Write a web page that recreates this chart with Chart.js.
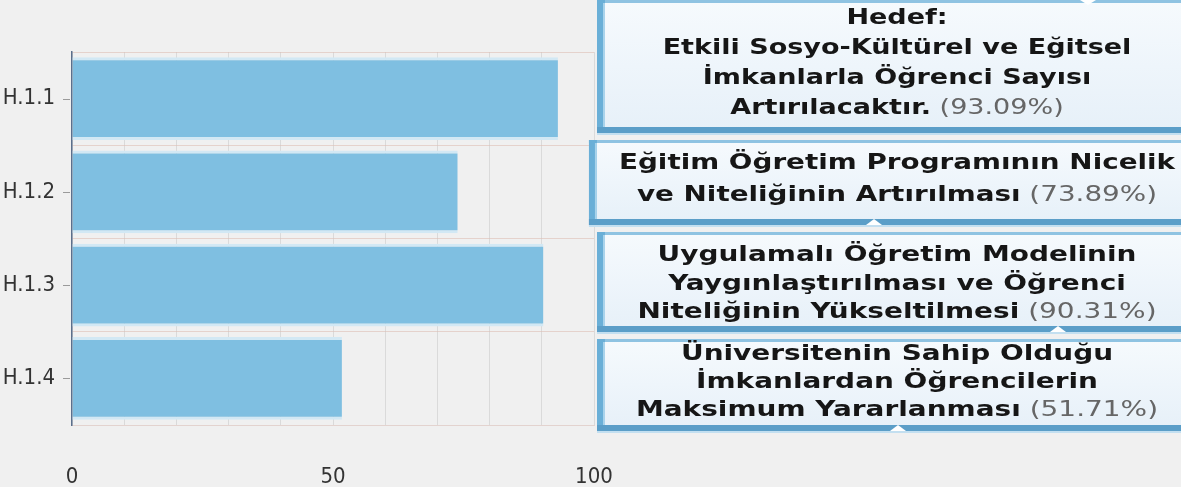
<!DOCTYPE html>
<html lang="tr">
<head>
  <meta charset="UTF-8">
  <title>Hedef H.1</title>
  <style>
    body {
      margin: 0;
      background: #f0f0f0;
    }
    canvas {
      display: block;
    }
  </style>
</head>
<body>
  <canvas id="hedefChart" width="1181" height="487"></canvas>

  <script src="https://cdn.jsdelivr.net/npm/chart.js"></script>
  <script>
    // veriler
    const categories = ['H.1.1', 'H.1.2', 'H.1.3', 'H.1.4'];
    const values = [93.09, 73.89, 90.31, 51.71];
    const xTickLabels = [0, 50, 100];
    const goalTitles = [
      ['Hedef:', 'Etkili Sosyo-Kültürel ve Eğitsel', 'İmkanlarla Öğrenci Sayısı', 'Artırılacaktır.'],
      ['Eğitim Öğretim Programının Nicelik', 've Niteliğinin Artırılması'],
      ['Uygulamalı Öğretim Modelinin', 'Yaygınlaştırılması ve Öğrenci', 'Niteliğinin Yükseltilmesi'],
      ['Üniversitenin Sahip Olduğu', 'İmkanlardan Öğrencilerin', 'Maksimum Yararlanması']
    ];

    // kutu stilleri
    const boxFontSize = [20.8, 21.4, 21.5, 21.5];
    const boxLineHeight = [30, 32, 28.5, 28];
    const boxHeight = [133, 85, 100, 92];
    const boxTextShift = [0, 0, 5, 0];
    const boxNotch = [[1088, 'top'], [874, 'bottom'], [1058, 'bottom'], [898, 'bottom']];
    const stretch = 1.3;

    function lineParts(lines, i, idx) {
      let parts = [{ text: lines[i], bold: true, color: '#161616' }];
      if (i === lines.length - 1) {
        parts.push({ text: ' (' + values[idx].toFixed(2) + '%)', bold: false, color: '#666666' });
      }
      return parts;
    }

    function partsWidth(ctx, parts, size) {
      let w = 0;
      parts.forEach(function (p) {
        ctx.font = (p.bold ? 'bold ' : '') + size + 'px "DejaVu Sans"';
        p.w = ctx.measureText(p.text).width * stretch;
        w += p.w;
      });
      return w;
    }

    function drawParts(ctx, parts, cx, cy, size) {
      let total = partsWidth(ctx, parts, size);
      let x = cx - total / 2;
      parts.forEach(function (p) {
        ctx.save();
        ctx.font = (p.bold ? 'bold ' : '') + size + 'px "DejaVu Sans"';
        ctx.fillStyle = p.color;
        ctx.textBaseline = 'middle';
        ctx.translate(x, cy);
        ctx.scale(stretch, 1);
        ctx.fillText(p.text, 0, 0);
        ctx.restore();
        x += p.w;
      });
    }

    function drawBox(ctx, x, y, w, h, notch) {
      let g = ctx.createLinearGradient(0, y, 0, y + h);
      g.addColorStop(0, '#f6fafd');
      g.addColorStop(0.5, '#eef5fb');
      g.addColorStop(1, '#e6f0f8');
      ctx.fillStyle = g;
      ctx.fillRect(x, y, w, h);
      // ust kenar
      ctx.fillStyle = '#8fc3e2';
      ctx.fillRect(x, y, w, 3);
      // sol kenar
      ctx.fillStyle = '#6aafd7';
      ctx.fillRect(x, y, 8, h);
      ctx.fillStyle = '#a9d3eb';
      ctx.fillRect(x + 6, y + 3, 2, h - 8);
      // alt kenar
      ctx.fillStyle = '#5b9ec8';
      ctx.fillRect(x, y + h - 6, w, 6);
      ctx.fillStyle = '#c3dff0';
      ctx.fillRect(x, y + h, w, 2);
      // kucuk centik
      ctx.fillStyle = '#ffffff';
      ctx.beginPath();
      if (notch[1] === 'top') {
        ctx.moveTo(notch[0] - 8, y);
        ctx.lineTo(notch[0] + 8, y);
        ctx.lineTo(notch[0], y + 5);
      } else {
        ctx.moveTo(notch[0] - 8, y + h);
        ctx.lineTo(notch[0] + 8, y + h);
        ctx.lineTo(notch[0], y + h - 6);
      }
      ctx.closePath();
      ctx.fill();
    }

    const calloutPlugin = {
      id: 'callouts',
      afterDraw: function (chart) {
        const ctx = chart.ctx;
        const area = chart.chartArea;
        const yScale = chart.scales.y;

        // y ekseni tik isaretleri
        ctx.save();
        ctx.strokeStyle = '#9a9a9a';
        ctx.lineWidth = 1;
        categories.forEach(function (c, i) {
          let py = Math.round(yScale.getPixelForValue(i)) + 0.5;
          ctx.beginPath();
          ctx.moveTo(area.left - 9, py);
          ctx.lineTo(area.left - 2, py);
          ctx.stroke();
        });
        ctx.restore();

        // hedef kutulari, ustten alta dizili
        let top = 0;
        goalTitles.forEach(function (lines, idx) {
          const size = boxFontSize[idx];
          const lh = boxLineHeight[idx];
          let maxW = 0;
          lines.forEach(function (l, i) {
            maxW = Math.max(maxW, partsWidth(ctx, lineParts(lines, i, idx), size));
          });
          const w = Math.max(600, maxW + 60);
          const h = boxHeight[idx];
          const cx = area.right + 303;
          drawBox(ctx, cx - w / 2, top, w, h, boxNotch[idx]);
          let firstY = top + (h - 6 - (lines.length - 1) * lh) / 2 + boxTextShift[idx];
          lines.forEach(function (l, i) {
            drawParts(ctx, lineParts(lines, i, idx), cx, firstY + i * lh, size);
          });
          top += h + 7;
        });
      }
    };

    const chart = new Chart(document.getElementById('hedefChart'), {
      type: 'bar',
      data: {
        labels: categories,
        datasets: [{
          data: values,
          backgroundColor: '#7fbfe1',
          borderColor: '#d2e8f4',
          borderWidth: { top: 3, bottom: 3, left: 0, right: 0 },
          borderSkipped: false,
          barPercentage: 0.89,
          categoryPercentage: 1
        }]
      },
      options: {
        indexAxis: 'y',
        responsive: false,
        animation: false,
        layout: {
          padding: { top: 52, right: 587, left: 0, bottom: 0 }
        },
        plugins: {
          legend: { display: false },
          tooltip: { enabled: false }
        },
        scales: {
          x: {
            min: 0,
            max: 100,
            z: 1,
            afterFit: function (scale) { scale.height = 62; },
            grid: {
              color: 'rgba(0,0,0,0.09)',
              drawTicks: false
            },
            border: { color: '#e3d3cf' },
            ticks: {
              stepSize: 10,
              padding: 39,
              color: '#333333',
              font: { family: '"Liberation Sans Narrow", "DejaVu Sans Condensed", sans-serif', size: 22 },
              callback: function (v) {
                return xTickLabels.indexOf(v) >= 0 ? String(v) : '';
              }
            }
          },
          y: {
            afterFit: function (scale) { scale.width = 72; },
            grid: {
              color: 'rgba(220,185,175,0.55)',
              offset: true,
              drawTicks: false
            },
            border: { color: '#5b6f8c', width: 1.5 },
            ticks: {
              padding: 17,
              color: '#333333',
              font: { family: '"Liberation Sans Narrow", "DejaVu Sans Condensed", sans-serif', size: 22 }
            }
          }
        }
      },
      plugins: [calloutPlugin]
    });
  </script>
</body>
</html>
